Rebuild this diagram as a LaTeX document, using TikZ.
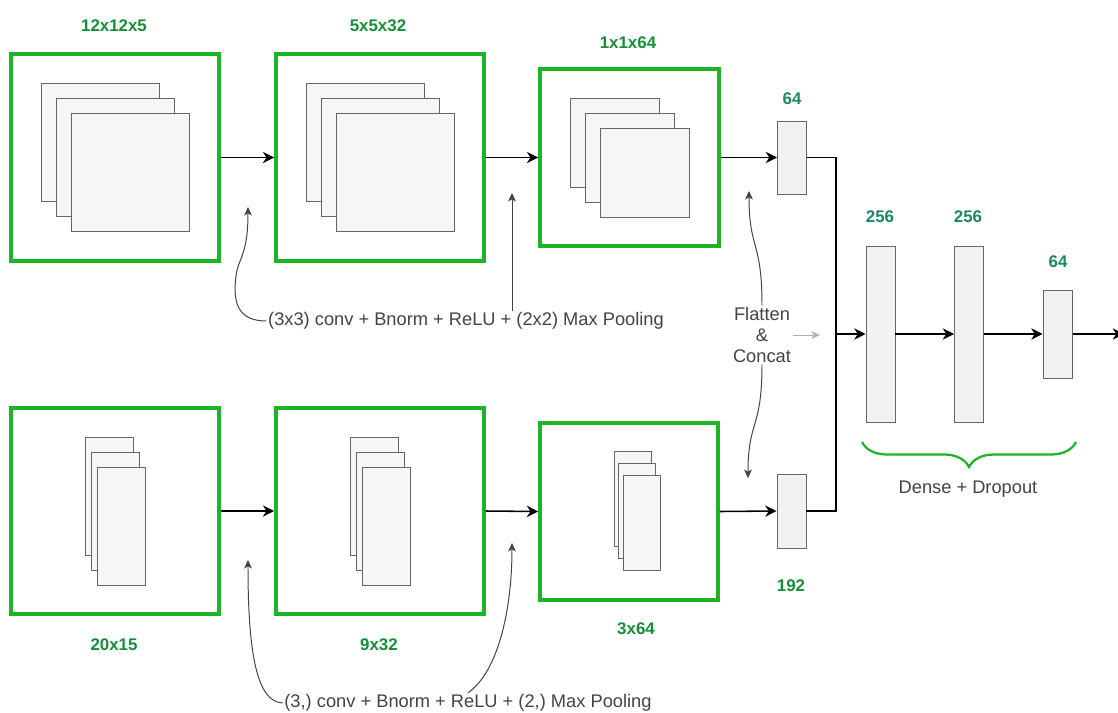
\documentclass[tikz,border=0pt]{standalone}
\usepackage{fontspec}
\setmainfont{Liberation Sans}
\usetikzlibrary{arrows.meta, decorations.pathreplacing}
\definecolor{boxgreen}{RGB}{30,180,40}
\definecolor{dimgreen}{RGB}{20,145,55}
\definecolor{tealgreen}{RGB}{30,135,100}
\definecolor{notegray}{RGB}{68,68,68}

\begin{document}
\begin{tikzpicture}[
        x=0.25mm, y=-0.25mm,
        convbox/.style 2 args={draw=boxgreen, line width=2.6pt, minimum width=#1*0.25mm, minimum height=#2*0.25mm, inner sep=0pt},
        fmap/.style 2 args={draw=black!60, fill=gray!7, line width=0.7pt, minimum width=#1*0.25mm, minimum height=#2*0.25mm, inner sep=0pt},
        vec/.style={draw=black!60, fill=gray!10, line width=0.7pt, minimum width=29*0.25mm, minimum height=#1*0.25mm, inner sep=0pt},
        dimlab/.style={font=\fontsize{12}{14}\selectfont\bfseries, text=dimgreen},
        unitlab/.style={font=\fontsize{12}{14}\selectfont\bfseries, text=tealgreen},
        note/.style={font=\fontsize{13}{15}\selectfont, text=notegray, inner sep=1pt},
        flow/.style={-{Stealth[length=8pt, width=8pt, inset=2.5pt]}, line width=1.1pt, black},
        hint/.style={-{Stealth[length=6pt, width=5.5pt, inset=1.5pt]}, line width=0.7pt, notegray},
        groupbrace/.style={decorate, decoration={brace, mirror, amplitude=6.25mm}, draw=boxgreen, line width=1.6pt}
    ]
        % Page
        \fill[white] (0,0) rectangle (1118,712);
        \useasboundingbox (0,0) rectangle (1118,712);

        % Top branch - conv blocks
        \node[convbox={208}{207}] (A1) at (115,157.5) {};
        \node[convbox={208}{207}] (A2) at (380,157.5) {};
        \node[convbox={179}{177}] (A3) at (629.5,157.5) {};
        \foreach \i/\d in {1/-15,2/0,3/15} {
            \node[fmap={118}{118}] (A1m\i) at (115+\d,157.5+\d) {};
            \node[fmap={118}{118}] (A2m\i) at (380+\d,157.5+\d) {};
            \node[fmap={89}{89}] (A3m\i) at (630+\d,158+\d) {};
        }
        \node[dimlab] (A1lab) at (114,26) {12x12x5};
        \node[dimlab] (A2lab) at (378,26) {5x5x32};
        \node[dimlab] (A3lab) at (628,43) {1x1x64};

        % Bottom branch - conv blocks
        \node[convbox={208}{206}] (B1) at (115,511) {};
        \node[convbox={208}{206}] (B2) at (380,511) {};
        \node[convbox={178}{177}] (B3) at (629,511.5) {};
        \foreach \i/\dx/\dy in {1/-6/-15,2/0/0,3/6/15} {
            \node[fmap={48}{118}] (B1m\i) at (115+\dx,511+\dy) {};
            \node[fmap={48}{118}] (B2m\i) at (380+\dx,511+\dy) {};
        }
        \foreach \i/\dx/\dy in {1/-4.5/-12,2/0/0,3/4.5/12}
            \node[fmap={37}{95}] (B3m\i) at (637+\dx,511+\dy) {};
        \node[dimlab] (B1lab) at (114,645) {20x15};
        \node[dimlab] (B2lab) at (379,645) {9x32};
        \node[dimlab] (B3lab) at (636,629) {3x64};

        % Flattened vectors and dense layers
        \node[vec=73] (F1) at (792,157.5) {};
        \node[vec=74] (F2) at (791.5,511) {};
        \node[unitlab] (F1lab) at (792,99) {64};
        \node[dimlab] (F2lab) at (791,586) {192};
        \node[vec=176] (D1) at (880.5,334) {};
        \node[vec=176] (D2) at (969,334) {};
        \node[vec=88] (D3) at (1057.5,334) {};
        \node[unitlab] (D1lab) at (880,217) {256};
        \node[unitlab] (D2lab) at (968,217) {256};
        \node[unitlab] (D3lab) at (1058,262) {64};

        \coordinate (J) at (836,334);
        \coordinate (out) at (1124,334);

        % Main flow
        \draw[flow] (A1.east) -- (A2.west);
        \draw[flow] (A2.east) -- (A3.west);
        \draw[flow] (A3.east) -- (F1.west);
        \draw[flow] (B1.east) -- (B2.west);
        \draw[flow] (B2.east) -- (B3.west);
        \draw[flow] (B3.east) -- (F2.west);
        \draw[line width=1.1pt] (F1.east) -| (J);
        \draw[line width=1.1pt] (F2.east) -| (J);
        \draw[flow] (J) -- (D1.west);
        \draw[flow] (D1.east) -- (D2.west);
        \draw[flow] (D2.east) -- (D3.west);
        \draw[flow] (D3.east) -- (out);

        % Notes
        \node[note] (convtop) at (466,321) {(3x3) conv + Bnorm + ReLU + (2x2) Max Pooling};
        \node[note] (convbot) at (468,703) {(3,) conv + Bnorm + ReLU + (2,) Max Pooling};
        \node[note, align=center] (flat) at (762,335) {Flatten\\\&\\Concat};
        \node[note] (dd) at (968,489) {Dense + Dropout};

        \coordinate (t1) at (248,207);
        \coordinate (t2) at (512,193);
        \coordinate (b1) at (248,560);
        \coordinate (b2) at (512,543);
        \coordinate (f1) at (749,191);
        \coordinate (f2) at (748,478);
        \coordinate (fc) at (820,335);

        \draw[hint] (convtop.west) .. controls (236,321) and (233,300) .. (236,276) .. controls (238,258) and (248,256) .. (t1);
        \draw[hint] (convtop.north -| t2) -- (t2);
        \draw[hint] (convbot.west) .. controls (256,702) and (248,650) .. (b1);
        \draw[hint] (convbot.north) .. controls (498,672) and (512,610) .. (b2);
        \draw[hint] (flat.north) .. controls (762,240) and (749,250) .. (f1);
        \draw[hint] (flat.south) .. controls (762,430) and (748,420) .. (f2);
        \draw[hint, gray!60] (flat.east) -- (fc);

        % Dense group
        \coordinate (bl) at (862,442);
        \coordinate (br) at (1076,442);
        \draw[groupbrace] (bl) -- (br);
\end{tikzpicture}
\end{document}
